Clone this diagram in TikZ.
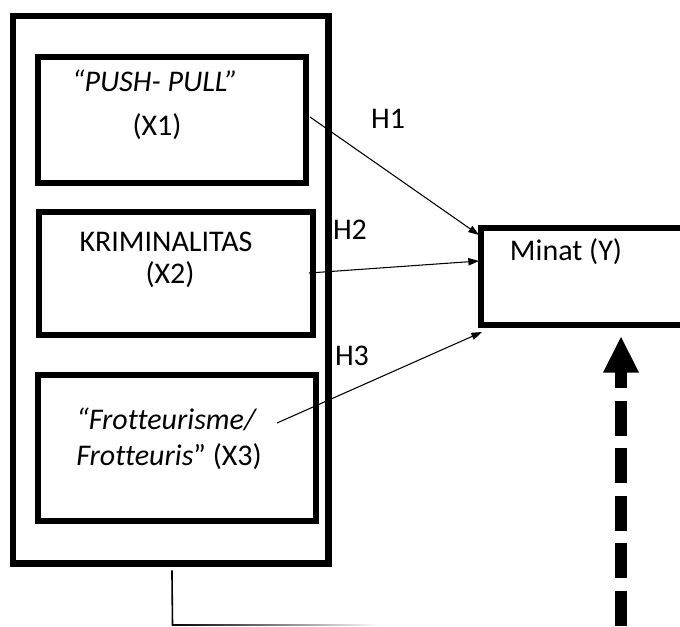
\documentclass[tikz,border=0pt]{standalone}
\usepackage{fontspec}
\setmainfont{Carlito}[Ligatures=NoCommon]
\usetikzlibrary{arrows.meta}
\tikzset{
  bigbox/.style={draw, line width=4.875pt, inner sep=0pt, rectangle},
  innerbox/.style={draw, line width=4.5pt, inner sep=0pt, rectangle},
  lbl/.style={inner sep=0pt, font=\fontsize{22.5pt}{27pt}\selectfont},
  hyp/.style={line width=0.8pt, -{Triangle[length=8pt,width=5.5pt]}},
}
\begin{document}
\begin{tikzpicture}[x=0.75pt, y=-0.75pt]
\useasboundingbox (0,0) rectangle (680,626);
\fill[white] (0,0) rectangle (680,626);

% outer frame and variable boxes
\node[bigbox, minimum width=236.625pt, minimum height=410.625pt] (outer) at (170.75,289.75) {};
\node[innerbox, minimum width=201pt, minimum height=94.875pt] (box1) at (172,119.75) {};
\node[innerbox, minimum width=205.5pt, minimum height=92.625pt] (box2) at (175.5,273.25) {};
\node[innerbox, minimum width=208.875pt, minimum height=109.125pt] (box3) at (176.75,447.75) {};

% dependent variable box (runs off the right edge)
\begin{scope}
\clip (0,0) rectangle (680,626);
\node[innerbox, minimum width=179.25pt, minimum height=73.125pt] (minat) at (600.5,276.25) {};
\end{scope}

% texts
\node[lbl] (t1a) at (155,81) {\itshape “PUSH- PULL”};
\node[lbl] (t1b) at (157,127) {(X1)};
\node[lbl] (t2a) at (166,242) {KRIMINALITAS};
\node[lbl] (t2b) at (170,275) {(X2)};
\node[lbl, anchor=west] (t3a) at (76,419) {\itshape “Frotteurisme/};
\node[lbl, anchor=west] (t3b) at (76,457) {{\itshape Frotteuris}” (X3)};
\node[lbl] (ty) at (566,252) {Minat (Y)};
\node[lbl] (h1) at (388,119) {H1};
\node[lbl] (h2) at (350,230) {H2};
\node[lbl] (h3) at (352,356) {H3};

% hypothesis arrows
\coordinate (h1s) at (310,117);
\coordinate (h1e) at (479,235);
\coordinate (h2s) at (309,273);
\coordinate (h2e) at (479,261);
\coordinate (h3s) at (277,423);
\coordinate (h3e) at (482,332);
\draw[hyp] (h1s) -- (h1e);
\draw[hyp] (h2s) -- (h2e);
\draw[hyp] (h3s) -- (h3e);

% dashed thick arrow
\coordinate (dbot) at (621,626);
\coordinate (dbase) at (621,372);
\coordinate (dtip) at (621,337);
\draw[line width=9pt, dash pattern=on 26.25pt off 9.375pt, dash phase=14.25pt] (dbase) -- (dbot);
\fill (603,372.5) -- (dtip) -- (639,372.5) -- cycle;

% bottom connector
\coordinate (lb) at (172.5,625);
\draw[line width=1.2pt] (outer.south) ++(1.2,3.5) -- (lb);
\shade[left color=black, right color=white] (171.8,624.2) rectangle (380,625.8);
\end{tikzpicture}
\end{document}
